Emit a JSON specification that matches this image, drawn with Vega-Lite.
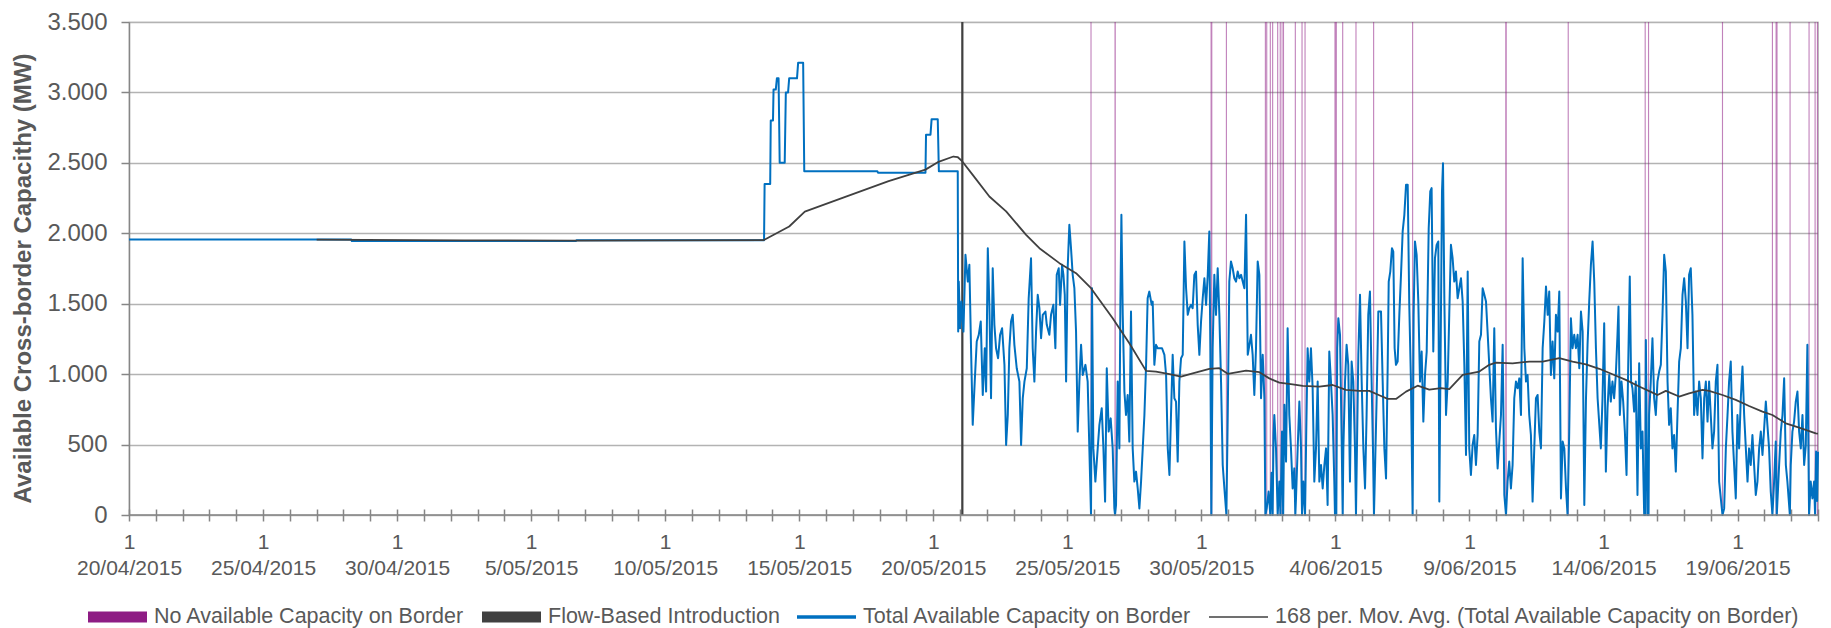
{
  "$schema": "https://vega.github.io/schema/vega-lite/v6.json",
  "width": 1689,
  "height": 493,
  "autosize": {"type": "none"},
  "padding": {"left": 129, "top": 22, "right": 13, "bottom": 113},
  "background": "white",
  "config": {
    "font": "Liberation Sans",
    "view": {"stroke": "#b3b3b3", "strokeWidth": 1.2}
  },
  "datasets": {
    "nocap": [
      {"start": 860.7, "end": 861.7}, {"start": 882.2, "end": 883.4}, {"start": 968.2, "end": 969.8},
      {"start": 981.9, "end": 982.9}, {"start": 1016.8, "end": 1017.8}, {"start": 1018.0, "end": 1019.0},
      {"start": 1021.2, "end": 1022.2}, {"start": 1023.3, "end": 1024.3}, {"start": 1027.8, "end": 1028.8},
      {"start": 1030.1, "end": 1031.1}, {"start": 1031.8, "end": 1032.6}, {"start": 1033.0, "end": 1034.0},
      {"start": 1043.6, "end": 1044.6}, {"start": 1049.6, "end": 1050.6}, {"start": 1052.3, "end": 1053.3},
      {"start": 1079.1, "end": 1081.3}, {"start": 1086.0, "end": 1087.0}, {"start": 1097.9, "end": 1098.9},
      {"start": 1113.7, "end": 1114.7}, {"start": 1148.6, "end": 1149.6}, {"start": 1232.0, "end": 1233.4},
      {"start": 1287.9, "end": 1288.9}, {"start": 1356.8, "end": 1357.8}, {"start": 1359.8, "end": 1360.8},
      {"start": 1426.0, "end": 1427.0}, {"start": 1470.7, "end": 1471.7}, {"start": 1474.0, "end": 1475.8},
      {"start": 1486.5, "end": 1487.5}, {"start": 1503.5, "end": 1504.5}, {"start": 1508.9, "end": 1509.9},
      {"start": 1511.0, "end": 1512.0}
    ],
    "flowbased": [{"start": 745, "end": 747}],
    "axisline": [{"MW": 0}],
    "capacity": [
      {"hour":0,"MW":1955},{"hour":199,"MW":1955},{"hour":199.5,"MW":1945},{"hour":400,"MW":1945},{"hour":400.5,"MW":1950},
      {"hour":568.5,"MW":1950},{"hour":569,"MW":2350},{"hour":574,"MW":2350},{"hour":574.5,"MW":2800},{"hour":576.5,"MW":2800},
      {"hour":577,"MW":3020},{"hour":579,"MW":3020},{"hour":580,"MW":3100},{"hour":581.5,"MW":3100},{"hour":582.5,"MW":2500},
      {"hour":587,"MW":2500},{"hour":588,"MW":3000},{"hour":590,"MW":3000},{"hour":591,"MW":3100},{"hour":598,"MW":3100},
      {"hour":599,"MW":3210},{"hour":603.5,"MW":3210},{"hour":604.5,"MW":2440},{"hour":670,"MW":2440},{"hour":670.5,"MW":2430},
      {"hour":713,"MW":2430},{"hour":713.5,"MW":2700},{"hour":717.5,"MW":2700},{"hour":718.5,"MW":2810},{"hour":724,"MW":2810},
      {"hour":725,"MW":2440},{"hour":741.9,"MW":2440},{"hour":742.3,"MW":1302},
      {"hour":742.8,"MW":1657},{"hour":744.0,"MW":1326},{"hour":745.2,"MW":1515},{"hour":747.0,"MW":1302},{"hour":748.8,"MW":1847},
      {"hour":750.9,"MW":1657},{"hour":752.3,"MW":1776},{"hour":753.8,"MW":1184},{"hour":755.3,"MW":640},{"hour":757.1,"MW":947},
      {"hour":758.9,"MW":1232},{"hour":760.7,"MW":1279},{"hour":762.5,"MW":1374},{"hour":764.3,"MW":852},{"hour":766.1,"MW":1184},
      {"hour":767.3,"MW":876},{"hour":768.8,"MW":1894},{"hour":770.2,"MW":1492},{"hour":771.7,"MW":829},{"hour":773.2,"MW":1752},
      {"hour":774.7,"MW":1350},{"hour":776.2,"MW":1184},{"hour":778.0,"MW":1113},{"hour":779.8,"MW":1279},{"hour":781.6,"MW":1326},
      {"hour":783.7,"MW":1066},{"hour":785.2,"MW":497},{"hour":786.7,"MW":710},{"hour":788.1,"MW":1184},{"hour":789.6,"MW":1374},
      {"hour":791.1,"MW":1421},{"hour":792.6,"MW":1208},{"hour":794.7,"MW":1042},{"hour":797.1,"MW":947},{"hour":798.6,"MW":497},
      {"hour":800.1,"MW":829},{"hour":801.6,"MW":947},{"hour":803.7,"MW":1042},{"hour":805.4,"MW":1539},{"hour":807.5,"MW":1823},
      {"hour":809.0,"MW":1184},{"hour":810.5,"MW":947},{"hour":812.0,"MW":1302},{"hour":813.5,"MW":1563},{"hour":815.0,"MW":1468},
      {"hour":816.5,"MW":1255},{"hour":818.0,"MW":1421},{"hour":820.4,"MW":1444},{"hour":821.6,"MW":1350},{"hour":823.9,"MW":1279},
      {"hour":825.4,"MW":1421},{"hour":827.5,"MW":1492},{"hour":829.3,"MW":1184},{"hour":830.5,"MW":1705},{"hour":832.3,"MW":1752},
      {"hour":833.5,"MW":1492},{"hour":835.3,"MW":1776},{"hour":836.5,"MW":1705},{"hour":837.7,"MW":1563},{"hour":838.9,"MW":947},
      {"hour":840.3,"MW":1752},{"hour":841.8,"MW":2060},{"hour":843.3,"MW":1894},{"hour":844.8,"MW":1705},{"hour":846.3,"MW":1610},
      {"hour":847.8,"MW":1302},{"hour":849.3,"MW":592},{"hour":850.8,"MW":947},{"hour":852.3,"MW":1208},{"hour":853.8,"MW":994},
      {"hour":856.2,"MW":1066},{"hour":858.2,"MW":947},{"hour":859.7,"MW":473},{"hour":861.2,"MW":0},{"hour":862.1,"MW":1610},
      {"hour":863.3,"MW":473},{"hour":865.1,"MW":237},{"hour":867.2,"MW":473},{"hour":868.7,"MW":640},{"hour":870.8,"MW":758},
      {"hour":872.3,"MW":473},{"hour":873.8,"MW":95},{"hour":875.3,"MW":1042},{"hour":877.0,"MW":592},{"hour":878.8,"MW":686},
      {"hour":880.6,"MW":473},{"hour":882.1,"MW":47},{"hour":882.7,"MW":0},{"hour":883.6,"MW":71},{"hour":885.1,"MW":947},
      {"hour":886.6,"MW":473},{"hour":887.5,"MW":1515},{"hour":888.4,"MW":2131},{"hour":889.6,"MW":1421},{"hour":891.1,"MW":876},
      {"hour":892.5,"MW":710},{"hour":894.0,"MW":852},{"hour":895.5,"MW":521},{"hour":897.0,"MW":1444},{"hour":898.5,"MW":473},
      {"hour":900.0,"MW":237},{"hour":901.5,"MW":308},{"hour":903.0,"MW":189},{"hour":904.5,"MW":47},{"hour":906.0,"MW":237},
      {"hour":907.5,"MW":473},{"hour":909.0,"MW":710},{"hour":910.5,"MW":1066},{"hour":911.9,"MW":1539},{"hour":913.4,"MW":1586},
      {"hour":915.5,"MW":1492},{"hour":916.4,"MW":1515},{"hour":917.9,"MW":1066},{"hour":919.4,"MW":1208},{"hour":920.9,"MW":1184},
      {"hour":924.8,"MW":1184},{"hour":926.9,"MW":1137},{"hour":928.4,"MW":994},{"hour":929.9,"MW":473},{"hour":931.4,"MW":284},
      {"hour":932.8,"MW":710},{"hour":934.3,"MW":1137},{"hour":935.8,"MW":829},{"hour":937.3,"MW":805},{"hour":938.8,"MW":379},
      {"hour":940.3,"MW":947},{"hour":941.8,"MW":1113},{"hour":943.3,"MW":1137},{"hour":944.8,"MW":1942},{"hour":946.3,"MW":1610},
      {"hour":947.8,"MW":1421},{"hour":949.2,"MW":1468},{"hour":950.7,"MW":1492},{"hour":952.2,"MW":1468},{"hour":953.7,"MW":1705},
      {"hour":955.2,"MW":1728},{"hour":956.7,"MW":1350},{"hour":958.2,"MW":1137},{"hour":959.7,"MW":1374},{"hour":961.2,"MW":1539},
      {"hour":962.7,"MW":1681},{"hour":964.2,"MW":1492},{"hour":965.7,"MW":1705},{"hour":967.1,"MW":2013},{"hour":968.0,"MW":1184},
      {"hour":968.9,"MW":0},{"hour":970.1,"MW":1184},{"hour":971.6,"MW":1705},{"hour":973.1,"MW":1421},{"hour":974.6,"MW":1752},
      {"hour":976.1,"MW":1421},{"hour":977.6,"MW":947},{"hour":979.1,"MW":355},{"hour":980.6,"MW":189},{"hour":982.4,"MW":0},
      {"hour":983.6,"MW":710},{"hour":985.0,"MW":1657},{"hour":986.5,"MW":1800},{"hour":988.0,"MW":1752},{"hour":989.5,"MW":1681},
      {"hour":991.0,"MW":1657},{"hour":992.5,"MW":1728},{"hour":994.0,"MW":1681},{"hour":995.5,"MW":1705},{"hour":997.0,"MW":1657},
      {"hour":998.5,"MW":1610},{"hour":1000.0,"MW":2131},{"hour":1001.5,"MW":1137},{"hour":1003.0,"MW":1208},{"hour":1004.4,"MW":1279},
      {"hour":1005.9,"MW":1137},{"hour":1007.4,"MW":852},{"hour":1008.9,"MW":1184},{"hour":1010.4,"MW":1800},{"hour":1011.9,"MW":1705},
      {"hour":1013.4,"MW":829},{"hour":1014.9,"MW":1137},{"hour":1016.4,"MW":829},{"hour":1017.3,"MW":0},{"hour":1018.5,"MW":47},
      {"hour":1020.2,"MW":166},{"hour":1021.7,"MW":0},{"hour":1022.8,"MW":300},{"hour":1023.8,"MW":0},{"hour":1024.6,"MW":568},
      {"hour":1025.3,"MW":710},{"hour":1026.8,"MW":473},{"hour":1028.3,"MW":0},{"hour":1029.8,"MW":237},{"hour":1030.8,"MW":0},
      {"hour":1032.2,"MW":592},{"hour":1033.2,"MW":0},{"hour":1034.3,"MW":782},{"hour":1035.8,"MW":379},{"hour":1037.2,"MW":1326},
      {"hour":1038.7,"MW":710},{"hour":1040.2,"MW":473},{"hour":1041.7,"MW":189},{"hour":1043.2,"MW":331},{"hour":1044.1,"MW":0},
      {"hour":1044.7,"MW":118},{"hour":1046.2,"MW":473},{"hour":1047.7,"MW":805},{"hour":1049.2,"MW":473},{"hour":1050.1,"MW":0},
      {"hour":1051.3,"MW":237},{"hour":1052.8,"MW":0},{"hour":1053.9,"MW":600},{"hour":1055.1,"MW":1184},{"hour":1056.6,"MW":947},
      {"hour":1058.1,"MW":1184},{"hour":1059.6,"MW":900},{"hour":1061.1,"MW":237},{"hour":1062.6,"MW":473},{"hour":1064.1,"MW":947},
      {"hour":1065.6,"MW":237},{"hour":1067.1,"MW":355},{"hour":1068.6,"MW":189},{"hour":1070.1,"MW":355},{"hour":1071.6,"MW":473},
      {"hour":1073.0,"MW":71},{"hour":1074.5,"MW":1160},{"hour":1076.0,"MW":947},{"hour":1077.5,"MW":710},{"hour":1079.0,"MW":237},
      {"hour":1079.6,"MW":0},{"hour":1080.8,"MW":0},{"hour":1081.6,"MW":1184},{"hour":1082.6,"MW":1397},{"hour":1084.1,"MW":1279},
      {"hour":1085.6,"MW":521},{"hour":1086.5,"MW":0},{"hour":1087.1,"MW":473},{"hour":1088.6,"MW":947},{"hour":1090.0,"MW":1208},
      {"hour":1091.5,"MW":1066},{"hour":1093.0,"MW":237},{"hour":1094.5,"MW":1089},{"hour":1096.0,"MW":947},{"hour":1097.5,"MW":473},
      {"hour":1098.4,"MW":0},{"hour":1100.5,"MW":1137},{"hour":1102.0,"MW":1563},{"hour":1103.5,"MW":947},{"hour":1105.0,"MW":473},
      {"hour":1106.5,"MW":189},{"hour":1107.9,"MW":710},{"hour":1109.4,"MW":1421},{"hour":1110.9,"MW":1586},{"hour":1112.4,"MW":947},
      {"hour":1113.6,"MW":473},{"hour":1114.5,"MW":0},{"hour":1116.9,"MW":829},{"hour":1118.4,"MW":1444},
      {"hour":1120.8,"MW":1444},{"hour":1122.3,"MW":947},{"hour":1123.8,"MW":473},{"hour":1125.3,"MW":260},{"hour":1126.8,"MW":1066},
      {"hour":1127.7,"MW":1657},{"hour":1129.1,"MW":1728},{"hour":1130.6,"MW":1894},{"hour":1131.8,"MW":1870},{"hour":1133.0,"MW":1184},
      {"hour":1134.2,"MW":1066},{"hour":1135.7,"MW":1089},{"hour":1137.2,"MW":1421},{"hour":1138.7,"MW":1705},{"hour":1140.2,"MW":2013},
      {"hour":1141.7,"MW":2131},{"hour":1143.2,"MW":2344},{"hour":1144.7,"MW":2344},{"hour":1146.1,"MW":1492},{"hour":1147.6,"MW":947},
      {"hour":1149.1,"MW":0},{"hour":1150.0,"MW":1421},{"hour":1151.2,"MW":1942},{"hour":1152.7,"MW":1847},{"hour":1154.2,"MW":1515},
      {"hour":1155.7,"MW":947},{"hour":1157.2,"MW":1160},{"hour":1158.7,"MW":663},{"hour":1160.2,"MW":994},{"hour":1161.7,"MW":1160},
      {"hour":1163.5,"MW":2036},{"hour":1164.9,"MW":2297},{"hour":1166.1,"MW":2321},{"hour":1167.6,"MW":1160},{"hour":1169.1,"MW":1823},
      {"hour":1170.6,"MW":1918},{"hour":1172.1,"MW":1942},{"hour":1173.0,"MW":95},{"hour":1174.2,"MW":1184},{"hour":1175.4,"MW":2297},
      {"hour":1176.3,"MW":2498},{"hour":1177.5,"MW":1539},{"hour":1179.0,"MW":710},{"hour":1180.5,"MW":947},{"hour":1181.9,"MW":1421},
      {"hour":1183.4,"MW":1918},{"hour":1184.9,"MW":1823},{"hour":1186.4,"MW":1657},{"hour":1187.9,"MW":1728},{"hour":1189.4,"MW":1539},
      {"hour":1190.9,"MW":1610},{"hour":1192.4,"MW":1681},{"hour":1193.9,"MW":1515},{"hour":1195.4,"MW":1066},{"hour":1196.9,"MW":426},
      {"hour":1198.4,"MW":1728},{"hour":1199.8,"MW":473},{"hour":1201.3,"MW":284},{"hour":1202.8,"MW":497},{"hour":1204.3,"MW":568},
      {"hour":1205.8,"MW":355},{"hour":1207.3,"MW":568},{"hour":1208.8,"MW":1232},{"hour":1210.3,"MW":1279},{"hour":1211.8,"MW":1610},
      {"hour":1213.3,"MW":1563},{"hour":1214.8,"MW":1515},{"hour":1216.2,"MW":1302},{"hour":1217.7,"MW":1066},{"hour":1219.2,"MW":829},
      {"hour":1220.7,"MW":663},{"hour":1222.2,"MW":1326},{"hour":1223.7,"MW":615},{"hour":1225.2,"MW":331},{"hour":1226.7,"MW":521},
      {"hour":1228.2,"MW":710},{"hour":1229.7,"MW":1208},{"hour":1231.2,"MW":142},{"hour":1232.7,"MW":0},{"hour":1234.1,"MW":237},
      {"hour":1235.6,"MW":379},{"hour":1237.1,"MW":189},{"hour":1238.6,"MW":355},{"hour":1240.1,"MW":829},{"hour":1241.6,"MW":947},
      {"hour":1243.1,"MW":900},{"hour":1244.6,"MW":970},{"hour":1246.1,"MW":710},{"hour":1247.6,"MW":1823},{"hour":1249.1,"MW":1184},
      {"hour":1250.6,"MW":947},{"hour":1252.0,"MW":994},{"hour":1253.5,"MW":710},{"hour":1255.0,"MW":568},{"hour":1256.5,"MW":95},
      {"hour":1258.0,"MW":473},{"hour":1259.5,"MW":829},{"hour":1261.0,"MW":852},{"hour":1262.5,"MW":592},{"hour":1264.0,"MW":473},
      {"hour":1265.5,"MW":1184},{"hour":1267.0,"MW":1374},{"hour":1268.5,"MW":1622},{"hour":1270.0,"MW":1421},{"hour":1271.4,"MW":1586},
      {"hour":1272.9,"MW":994},{"hour":1274.4,"MW":1232},{"hour":1275.9,"MW":970},{"hour":1277.4,"MW":1421},{"hour":1278.9,"MW":1302},
      {"hour":1280.4,"MW":1586},{"hour":1281.9,"MW":118},{"hour":1283.4,"MW":521},{"hour":1284.9,"MW":473},{"hour":1286.4,"MW":189},
      {"hour":1287.8,"MW":0},{"hour":1289.3,"MW":592},{"hour":1290.8,"MW":1397},{"hour":1292.3,"MW":1184},{"hour":1293.8,"MW":1279},
      {"hour":1295.3,"MW":1184},{"hour":1296.8,"MW":1279},{"hour":1298.3,"MW":1042},{"hour":1299.8,"MW":1444},{"hour":1301.3,"MW":1302},
      {"hour":1302.8,"MW":71},{"hour":1304.3,"MW":829},{"hour":1305.7,"MW":1208},{"hour":1307.2,"MW":1515},{"hour":1308.7,"MW":1776},
      {"hour":1310.2,"MW":1942},{"hour":1311.7,"MW":1657},{"hour":1313.2,"MW":1184},{"hour":1314.7,"MW":829},
      {"hour":1317.6,"MW":473},{"hour":1319.1,"MW":829},{"hour":1320.6,"MW":1362},{"hour":1322.1,"MW":308},{"hour":1323.6,"MW":758},
      {"hour":1325.1,"MW":994},{"hour":1326.5,"MW":805},{"hour":1328.0,"MW":947},{"hour":1329.5,"MW":829},{"hour":1331.0,"MW":994},
      {"hour":1332.5,"MW":1279},{"hour":1333.4,"MW":1480},{"hour":1334.6,"MW":710},{"hour":1336.1,"MW":947},{"hour":1337.6,"MW":805},
      {"hour":1339.1,"MW":592},{"hour":1340.6,"MW":284},{"hour":1342.1,"MW":1066},{"hour":1343.5,"MW":1693},{"hour":1344.7,"MW":947},
      {"hour":1345.9,"MW":900},{"hour":1347.4,"MW":734},{"hour":1348.9,"MW":947},{"hour":1350.4,"MW":142},{"hour":1351.9,"MW":1077},
      {"hour":1353.4,"MW":473},{"hour":1354.9,"MW":592},{"hour":1356.4,"MW":0},{"hour":1357.3,"MW":0},{"hour":1357.9,"MW":1243},
      {"hour":1359.4,"MW":0},{"hour":1360.3,"MW":0},{"hour":1360.8,"MW":710},{"hour":1362.3,"MW":947},{"hour":1363.8,"MW":1255},
      {"hour":1365.3,"MW":829},{"hour":1366.8,"MW":710},{"hour":1368.3,"MW":947},{"hour":1369.8,"MW":1018},{"hour":1371.3,"MW":1066},
      {"hour":1372.8,"MW":1421},{"hour":1374.3,"MW":1847},{"hour":1375.8,"MW":1728},{"hour":1377.3,"MW":947},{"hour":1378.7,"MW":640},
      {"hour":1380.2,"MW":758},{"hour":1381.7,"MW":473},{"hour":1383.2,"MW":568},{"hour":1384.7,"MW":308},{"hour":1386.2,"MW":710},
      {"hour":1387.7,"MW":1089},{"hour":1389.2,"MW":1184},{"hour":1390.7,"MW":1563},{"hour":1392.2,"MW":1681},{"hour":1393.7,"MW":1515},
      {"hour":1395.2,"MW":1184},{"hour":1396.6,"MW":1705},{"hour":1398.1,"MW":1752},{"hour":1399.6,"MW":1421},{"hour":1401.1,"MW":710},
      {"hour":1402.6,"MW":876},{"hour":1404.1,"MW":710},{"hour":1405.6,"MW":947},{"hour":1407.1,"MW":829},{"hour":1408.6,"MW":402},
      {"hour":1410.1,"MW":829},{"hour":1411.6,"MW":947},{"hour":1413.1,"MW":663},{"hour":1414.5,"MW":947},{"hour":1416.0,"MW":710},
      {"hour":1417.5,"MW":473},{"hour":1419.0,"MW":592},{"hour":1420.5,"MW":947},{"hour":1422.0,"MW":1066},{"hour":1423.5,"MW":237},
      {"hour":1425.0,"MW":118},{"hour":1426.5,"MW":0},{"hour":1428.0,"MW":47},{"hour":1429.5,"MW":473},{"hour":1431.0,"MW":710},
      {"hour":1432.4,"MW":947},{"hour":1433.9,"MW":1089},{"hour":1435.4,"MW":592},{"hour":1436.9,"MW":355},{"hour":1438.4,"MW":118},
      {"hour":1439.9,"MW":710},{"hour":1441.4,"MW":473},{"hour":1442.9,"MW":829},{"hour":1444.4,"MW":1054},{"hour":1445.9,"MW":710},
      {"hour":1447.4,"MW":473},{"hour":1448.9,"MW":237},{"hour":1450.3,"MW":473},{"hour":1451.8,"MW":355},{"hour":1453.3,"MW":568},
      {"hour":1454.8,"MW":355},{"hour":1456.3,"MW":142},{"hour":1457.8,"MW":237},{"hour":1459.3,"MW":473},{"hour":1460.8,"MW":592},
      {"hour":1462.3,"MW":426},{"hour":1463.8,"MW":615},{"hour":1465.3,"MW":805},{"hour":1466.7,"MW":640},{"hour":1468.2,"MW":473},
      {"hour":1469.7,"MW":166},{"hour":1471.2,"MW":0},{"hour":1472.7,"MW":237},{"hour":1474.2,"MW":521},{"hour":1475.1,"MW":0},
      {"hour":1477.2,"MW":355},{"hour":1478.7,"MW":592},{"hour":1480.2,"MW":710},{"hour":1481.7,"MW":970},{"hour":1483.2,"MW":355},
      {"hour":1484.6,"MW":237},{"hour":1486.8,"MW":0},{"hour":1487.6,"MW":355},{"hour":1489.1,"MW":592},{"hour":1490.6,"MW":663},
      {"hour":1492.1,"MW":805},{"hour":1493.6,"MW":876},{"hour":1495.1,"MW":592},{"hour":1496.6,"MW":473},{"hour":1498.1,"MW":710},
      {"hour":1499.6,"MW":355},{"hour":1501.1,"MW":497},{"hour":1502.5,"MW":1208},{"hour":1504.0,"MW":0},{"hour":1505.5,"MW":237},
      {"hour":1507.0,"MW":118},{"hour":1508.5,"MW":237},{"hour":1509.4,"MW":0},{"hour":1510.3,"MW":450},{"hour":1511.2,"MW":100},
      {"hour":1512,"MW":450}
    ],
    "movavg": [
      {"hour":168,"MW":1955},{"hour":300,"MW":1950},{"hour":400,"MW":1948},{"hour":568,"MW":1951},{"hour":573,"MW":1972},
      {"hour":591,"MW":2048},{"hour":605,"MW":2154},{"hour":640,"MW":2255},{"hour":680,"MW":2370},{"hour":713,"MW":2452},
      {"hour":724,"MW":2505},{"hour":738,"MW":2545},{"hour":742,"MW":2540},{"hour":746,"MW":2510},{"hour":755.3,"MW":2415},
      {"hour":770.2,"MW":2261},{"hour":785.2,"MW":2155},{"hour":803.1,"MW":1989},{"hour":815.0,"MW":1894},{"hour":832.9,"MW":1788},
      {"hour":847.8,"MW":1717},{"hour":861.2,"MW":1610},{"hour":880.6,"MW":1397},{"hour":895.5,"MW":1219},{"hour":910.5,"MW":1023},
      {"hour":919.4,"MW":1018},{"hour":931.4,"MW":1000},{"hour":941.8,"MW":982},{"hour":952.2,"MW":1006},{"hour":967.1,"MW":1037},
      {"hour":976.1,"MW":1042},{"hour":983.6,"MW":1002},{"hour":1000.0,"MW":1025},{"hour":1011.9,"MW":1014},{"hour":1020.8,"MW":970},
      {"hour":1029.8,"MW":940},{"hour":1041.7,"MW":928},{"hour":1050.7,"MW":916},{"hour":1065.6,"MW":912},{"hour":1077.5,"MW":923},
      {"hour":1089.4,"MW":888},{"hour":1101.4,"MW":881},{"hour":1110.3,"MW":881},{"hour":1119.3,"MW":850},{"hour":1126.8,"MW":824},
      {"hour":1134.2,"MW":824},{"hour":1143.2,"MW":876},{"hour":1153.6,"MW":918},{"hour":1164.0,"MW":890},{"hour":1174.5,"MW":900},
      {"hour":1181.9,"MW":893},{"hour":1193.9,"MW":994},{"hour":1208.8,"MW":1018},{"hour":1217.7,"MW":1066},{"hour":1223.7,"MW":1082},
      {"hour":1238.6,"MW":1077},{"hour":1253.5,"MW":1089},{"hour":1265.5,"MW":1089},{"hour":1280.4,"MW":1113},{"hour":1292.3,"MW":1089},
      {"hour":1304.3,"MW":1070},{"hour":1316.2,"MW":1038},{"hour":1328.0,"MW":999},{"hour":1340.0,"MW":959},{"hour":1351.9,"MW":912},
      {"hour":1363.8,"MW":869},{"hour":1368.3,"MW":852},{"hour":1375.8,"MW":881},{"hour":1387.7,"MW":841},{"hour":1396.6,"MW":864},
      {"hour":1408.6,"MW":888},{"hour":1414.5,"MW":881},{"hour":1426.5,"MW":852},{"hour":1438.4,"MW":817},{"hour":1450.3,"MW":774},
      {"hour":1462.3,"MW":734},{"hour":1471.2,"MW":710},{"hour":1483.2,"MW":651},{"hour":1495.1,"MW":620},{"hour":1510.0,"MW":580},
      {"hour":1512,"MW":578}
    ]
  },
  "layer": [
    {
      "data": {"name": "nocap"},
      "mark": {"type": "rect", "opacity": 0.55},
      "encoding": {
        "x": {"field": "start", "type": "quantitative", "scale": {"domain": [0, 1512], "nice": false, "zero": false}, "axis": {"title": null}},
        "x2": {"field": "end"},
        "color": {
          "datum": "No Available Capacity on Border",
          "scale": {
            "domain": ["No Available Capacity on Border", "Flow-Based Introduction", "Total Available Capacity on Border", "168 per. Mov. Avg. (Total Available Capacity on Border)"],
            "range": ["#8E1C84", "#404040", "#0070C0", "#404040"]
          },
          "legend": {
            "orient": "none",
            "legendX": -41,
            "legendY": 583,
            "direction": "horizontal",
            "gridAlign": "none",
            "title": null,
            "symbolType": "M-1,-0.19H1V0.19H-1Z",
            "symbolSize": 3481,
            "symbolStrokeWidth": 0,
            "symbolOpacity": 1,
            "labelFontSize": 21.5,
            "labelFont": "Liberation Sans",
            "labelColor": "#595959",
            "labelLimit": 0,
            "columnPadding": 17,
            "padding": 0,
            "encode": {
              "symbols": {
                "update": {
                  "x": {"value": 29.5},
                  "y": {"value": 12},
                  "shape": {"signal": "(datum.value == 'No Available Capacity on Border' || datum.value == 'Flow-Based Introduction') ? 'M-1,-0.19H1V0.19H-1Z' : (datum.value == 'Total Available Capacity on Border' ? 'M-1,-0.06H1V0.06H-1Z' : 'M-1,-0.025H1V0.025H-1Z')"},
                  "fill": {"scale": "color", "field": "value"},
                  "stroke": {"value": "transparent"},
                  "strokeWidth": {"value": 0},
                  "opacity": {"value": 1},
                  "fillOpacity": {"value": 1}
                }
              },
              "labels": {
                "update": {
                  "x": {"value": 66},
                  "y": {"value": 12},
                  "baseline": {"value": "middle"},
                  "align": {"value": "left"}
                }
              }
            }
          }
        }
      }
    },
    {
      "data": {"name": "flowbased"},
      "mark": {"type": "rect"},
      "encoding": {
        "x": {"field": "start", "type": "quantitative", "scale": {"domain": [0, 1512], "nice": false, "zero": false}, "axis": {"title": null}},
        "x2": {"field": "end"},
        "color": {"datum": "Flow-Based Introduction"}
      }
    },
    {
      "data": {"name": "capacity"},
      "mark": {"type": "line", "strokeWidth": 2, "strokeJoin": "round"},
      "encoding": {
        "x": {
          "field": "hour", "type": "quantitative",
          "scale": {"domain": [0, 1512], "nice": false, "zero": false},
          "axis": {
            "title": null,
            "values": [0,24,48,72,96,120,144,168,192,216,240,264,288,312,336,360,384,408,432,456,480,504,528,552,576,600,624,648,672,696,720,744,768,792,816,840,864,888,912,936,960,984,1008,1032,1056,1080,1104,1128,1152,1176,1200,1224,1248,1272,1296,1320,1344,1368,1392,1416,1440,1464,1488,1512],
            "tickCount": 100,
            "offset": -6,
            "tickSize": 12,
            "tickColor": "#868686",
            "tickWidth": 1.5,
            "domain": false,
            "grid": false,
            "labelExpr": "datum.value % 120 == 0 ? ['1', ['20/04/2015','25/04/2015','30/04/2015','5/05/2015','10/05/2015','15/05/2015','20/05/2015','25/05/2015','30/05/2015','4/06/2015','9/06/2015','14/06/2015','19/06/2015'][datum.value / 120]] : ''",
            "labelFontSize": 21,
            "labelFont": "Liberation Sans",
            "labelColor": "#595959",
            "labelPadding": 10,
            "labelLineHeight": 26,
            "labelOverlap": false,
            "labelFlush": false,
            "labelBound": false
          }
        },
        "y": {
          "field": "MW", "type": "quantitative",
          "scale": {"domain": [0, 3500], "nice": false},
          "axis": {
            "title": "Available Cross-border Capacithy (MW)",
            "values": [0, 500, 1000, 1500, 2000, 2500, 3000, 3500],
            "labelExpr": "replace(format(datum.value, ','), ',', '.')",
            "labelFontSize": 24,
            "labelFont": "Liberation Sans",
            "labelColor": "#595959",
            "labelPadding": 14,
            "tickSize": 8,
            "tickColor": "#868686",
            "tickWidth": 1.5,
            "domainColor": "#868686",
            "domainWidth": 1.5,
            "gridColor": "#b3b3b3",
            "gridWidth": 1.3,
            "titleFont": "Liberation Sans",
            "titleFontSize": 24,
            "titleFontWeight": "bold",
            "titleColor": "#595959",
            "titleX": -106,
            "titleY": 256,
            "titleAngle": 270,
            "titleAlign": "center",
            "titleBaseline": "middle"
          }
        },
        "color": {"datum": "Total Available Capacity on Border"}
      }
    },
    {
      "data": {"name": "movavg"},
      "mark": {"type": "line", "strokeWidth": 1.8, "strokeJoin": "round"},
      "encoding": {
        "x": {"field": "hour", "type": "quantitative", "scale": {"domain": [0, 1512], "nice": false, "zero": false}, "axis": {"title": null}},
        "y": {"field": "MW", "type": "quantitative", "scale": {"domain": [0, 3500], "nice": false}, "axis": {"title": "Available Cross-border Capacithy (MW)"}},
        "color": {"datum": "168 per. Mov. Avg. (Total Available Capacity on Border)"}
      }
    },
    {
      "data": {"name": "axisline"},
      "mark": {"type": "rule", "color": "#868686", "strokeWidth": 1.5},
      "encoding": {
        "y": {"field": "MW", "type": "quantitative", "scale": {"domain": [0, 3500], "nice": false}, "axis": {"title": "Available Cross-border Capacithy (MW)"}}
      }
    }
  ]
}
